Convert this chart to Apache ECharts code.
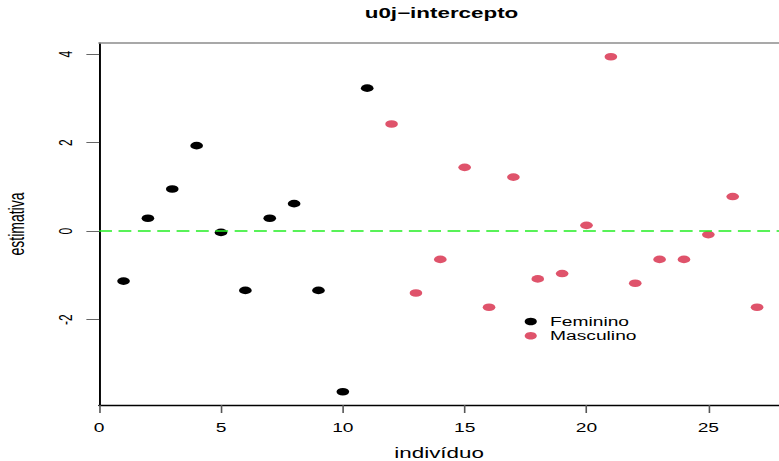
<!DOCTYPE html>
<html>
<head>
<meta charset="utf-8">
<script src="https://cdn.jsdelivr.net/npm/echarts@6/dist/echarts.min.js"></script>
<style>
  html, body { margin: 0; padding: 0; background: #fff; overflow: hidden; }
  /* the plot is laid out narrow and widened horizontally, like a stretched R device */
  #chart { width: 487px; height: 461px; transform: scaleX(1.5996); transform-origin: 0 0; }
</style>
</head>
<body>
<div id="chart"></div>
<script>
// u0j random-intercept estimates per individual, split by sex
const individuoFem = [1, 2, 3, 4, 5, 6, 7, 8, 9, 10, 11];
const estimativaFem = [-1.13, 0.29, 0.95, 1.93, -0.03, -1.34, 0.29, 0.62, -1.34, -3.63, 3.23];
const individuoMasc = [12, 13, 14, 15, 16, 17, 18, 19, 20, 21, 22, 23, 24, 25, 26, 27];
const estimativaMasc = [2.42, -1.40, -0.64, 1.44, -1.72, 1.22, -1.08, -0.96, 0.13, 3.94, -1.18, -0.64, -0.64, -0.08, 0.78, -1.72];
const xTicks = [0, 5, 10, 15, 20, 25];
const yTicks = [-2, 0, 2, 4];
const referenceLine = 0;

const FONT = 'Liberation Sans, Arial, Helvetica, sans-serif';
const dot = 'path://M0 5A5 5 0 1 1 10 5A5 5 0 1 1 0 5Z';

const zip = (xs, ys) => xs.map((x, i) => [x, ys[i]]);

const chart = echarts.init(document.getElementById('chart'), null, { renderer: 'svg' });
chart.setOption({
  backgroundColor: '#fff',
  animation: false,
  title: {
    text: 'u0j\u2212intercepto',
    left: 276, top: 6, padding: 0, textAlign: 'center',
    textStyle: { fontFamily: FONT, fontSize: 14, fontWeight: 'bold', color: '#000' }
  },
  legend: {
    data: ['Feminino', 'Masculino'],
    orient: 'vertical',
    left: 328, top: 315.5, padding: 0,
    icon: 'circle', itemWidth: 14.2, itemHeight: 7.6, itemGap: 2.3,
    textStyle: { fontFamily: FONT, fontSize: 12, color: '#000' }
  },
  grid: { left: 62, right: 0, top: 43, bottom: 56, containLabel: false, outerBoundsMode: 'none' },
  xAxis: [{
    type: 'value', min: 0, max: 27.9, position: 'bottom',
    name: 'indivíduo', nameLocation: 'middle', nameGap: 41,
    nameTextStyle: { fontFamily: FONT, fontSize: 14, color: '#000' },
    axisLine: { show: true, onZero: false, lineStyle: { color: '#000', width: 1.4 } },
    axisTick: { show: true, length: 8, customValues: xTicks, lineStyle: { color: '#555', width: 1 } },
    axisLabel: { customValues: xTicks, margin: 17, fontFamily: FONT, fontSize: 12, color: '#000' },
    splitLine: { show: false }
  }, {
    type: 'value', min: 0, max: 27.9, position: 'top',
    axisLine: { show: true, onZero: false, lineStyle: { color: '#8c8c8c', width: 1.5 } },
    axisTick: { show: false }, axisLabel: { show: false }, splitLine: { show: false }
  }],
  yAxis: {
    type: 'value', min: -3.93, max: 4.25,
    name: 'estimativa', nameLocation: 'middle', nameGap: 45, nameRotate: 90,
    nameTextStyle: { fontFamily: FONT, fontSize: 14, color: '#000' },
    axisLine: { show: true, onZero: false, lineStyle: { color: '#000', width: 1.2 } },
    axisTick: { show: true, length: 8, customValues: yTicks, lineStyle: { color: '#666', width: 1 } },
    axisLabel: { customValues: yTicks, rotate: 90, margin: 15, fontFamily: FONT, fontSize: 12, color: '#000' },
    splitLine: { show: false }
  },
  series: [{
    name: 'Feminino', type: 'scatter',
    data: zip(individuoFem, estimativaFem),
    symbol: dot, symbolSize: [7.9, 7.6],
    itemStyle: { color: '#000000', opacity: 1 }
  }, {
    name: 'Masculino', type: 'scatter',
    data: zip(individuoMasc, estimativaMasc),
    symbol: dot, symbolSize: [7.9, 7.6],
    itemStyle: { color: '#DF536B', opacity: 1 },
    markLine: {
      silent: true, symbol: ['none', 'none'], label: { show: false },
      lineStyle: { color: '#22ee22', width: 1.5, type: [8, 4.1] },
      data: [{ yAxis: referenceLine }]
    }
  }]
});
</script>
</body>
</html>
